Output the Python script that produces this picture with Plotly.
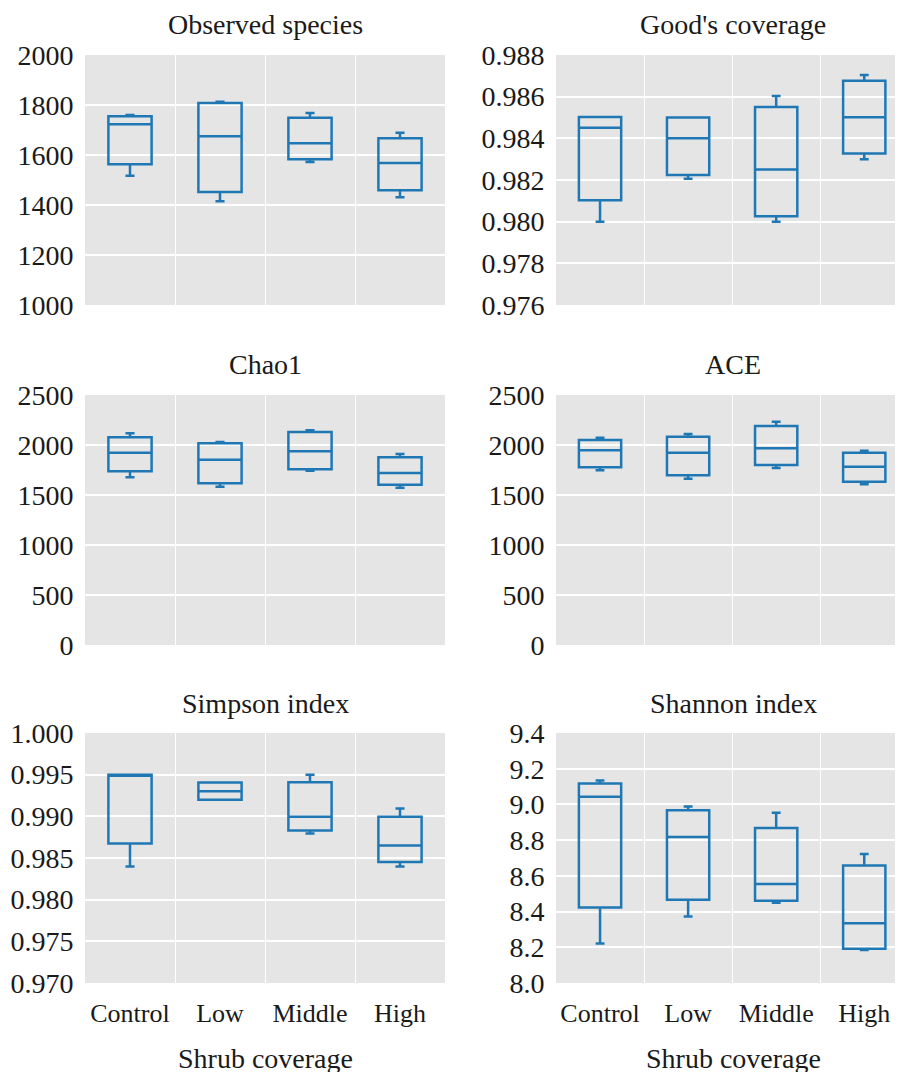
import plotly.graph_objects as go

categories = ["Control", "Low", "Middle", "High"]

panel_titles = ["Observed species", "Good's coverage", "Chao1", "ACE", "Simpson index", "Shannon index"]

# Observed species
obs_low = [1517, 1415, 1572, 1431]
obs_q1 = [1563, 1452, 1583, 1459]
obs_med = [1723, 1675, 1647, 1568]
obs_q3 = [1755, 1808, 1749, 1667]
obs_up = [1760, 1813, 1768, 1689]

# Good's coverage
good_low = [0.98000, 0.98206, 0.98000, 0.98300]
good_q1 = [0.98103, 0.98224, 0.98026, 0.98327]
good_med = [0.98451, 0.98400, 0.98250, 0.98501]
good_q3 = [0.98503, 0.98500, 0.98551, 0.98676]
good_up = [0.98503, 0.98500, 0.98603, 0.98704]

# Chao1
chao_low = [1677, 1583, 1743, 1573]
chao_q1 = [1737, 1617, 1757, 1603]
chao_med = [1923, 1853, 1937, 1720]
chao_q3 = [2077, 2017, 2130, 1877]
chao_up = [2117, 2030, 2147, 1910]

# ACE
ace_low = [1747, 1663, 1770, 1607]
ace_q1 = [1777, 1697, 1800, 1633]
ace_med = [1947, 1923, 1967, 1783]
ace_q3 = [2050, 2083, 2190, 1923]
ace_up = [2073, 2110, 2233, 1943]

# Simpson index
simp_low = [0.98399, 0.99200, 0.98794, 0.98399]
simp_q1 = [0.98673, 0.99198, 0.98831, 0.98452]
simp_med = [0.99500, 0.99302, 0.98996, 0.98649]
simp_q3 = [0.99500, 0.99407, 0.99410, 0.98996]
simp_up = [0.99500, 0.99407, 0.99500, 0.99093]

# Shannon index
shan_low = [8.221, 8.372, 8.449, 8.185]
shan_q1 = [8.423, 8.466, 8.460, 8.192]
shan_med = [9.043, 8.817, 8.555, 8.334]
shan_q3 = [9.117, 8.968, 8.868, 8.658]
shan_up = [9.134, 8.989, 8.953, 8.723]

y_ranges = [[1000, 2000], [0.976, 0.988], [0, 2500], [0, 2500], [0.970, 1.000], [8.0, 9.4]]
y_dticks = [200, 0.002, 500, 500, 0.005, 0.2]
y_formats = ["d", ".3f", "d", "d", ".3f", ".1f"]

stats = [
    (obs_low, obs_q1, obs_med, obs_q3, obs_up),
    (good_low, good_q1, good_med, good_q3, good_up),
    (chao_low, chao_q1, chao_med, chao_q3, chao_up),
    (ace_low, ace_q1, ace_med, ace_q3, ace_up),
    (simp_low, simp_q1, simp_med, simp_q3, simp_up),
    (shan_low, shan_q1, shan_med, shan_q3, shan_up),
]

W, H = 903, 1072
OFF = 8  # page body margin offset
FONT = "Liberation Serif"
TXT = "#1a1a1a"
BLUE = "#1f77b4"


def fx(px):
    return (px - OFF) / W


def fy(px):
    return 1 - (px - OFF) / H


x_domains = [[fx(85), fx(445)], [fx(556), fx(903)]]
x_ranges = [[-0.5, 3.5], [-0.5, 3.44]]
rows_px = [(55, 305), (395, 645), (733, 983)]

fig = go.Figure()
layout = dict(
    width=W, height=H,
    margin=dict(l=0, r=0, t=0, b=0, autoexpand=False),
    paper_bgcolor="white",
    plot_bgcolor="#e5e5e5",
    showlegend=False,
    font=dict(family=FONT, size=28, color=TXT),
    boxgap=0.52,
    boxgroupgap=0,
    annotations=[],
)

for i in range(6):
    r, c = divmod(i, 2)
    n = i + 1
    xa = "x" if n == 1 else f"x{n}"
    ya = "y" if n == 1 else f"y{n}"
    lo, q1, med, q3, up = stats[i]
    fig.add_trace(go.Box(
        x=categories, q1=q1, median=med, q3=q3, lowerfence=lo, upperfence=up,
        xaxis=xa, yaxis=ya,
        fillcolor="rgba(0,0,0,0)",
        line=dict(color=BLUE, width=2.5),
        whiskerwidth=0.21,
        boxpoints=False,
        hoverinfo="skip",
    ))
    top_px, bot_px = rows_px[r]
    ydom = [fy(bot_px), fy(top_px)]
    layout[f"xaxis{'' if n == 1 else n}"] = dict(
        domain=x_domains[c], anchor=ya,
        type="category", categoryorder="array", categoryarray=categories,
        range=x_ranges[c],
        tickson="boundaries",
        showgrid=True, gridcolor="white", gridwidth=1.2,
        showticklabels=(r == 2),
        tickangle=0,
        ticks="", ticklabelstandoff=12,
        tickfont=dict(family=FONT, size=26, color=TXT),
        showline=False, zeroline=False, automargin=False,
    )
    layout[f"yaxis{'' if n == 1 else n}"] = dict(
        domain=ydom, anchor=xa,
        range=y_ranges[i], dtick=y_dticks[i], tick0=y_ranges[i][0],
        tickformat=y_formats[i],
        showgrid=True, gridcolor="white", gridwidth=1.5,
        ticks="outside", ticklen=5, tickcolor="rgba(0,0,0,0)",
        tickfont=dict(family=FONT, size=28, color=TXT),
        showline=False, zeroline=False, automargin=False,
    )
    cx = fx(265) if c == 0 else fx(733)
    layout["annotations"].append(dict(
        text=panel_titles[i], xref="paper", yref="paper",
        x=cx, y=fy(top_px - 30), xanchor="center", yanchor="middle",
        showarrow=False, font=dict(family=FONT, size=28, color=TXT),
    ))

for cx in [fx(265), fx(733)]:
    layout["annotations"].append(dict(
        text="Shrub coverage", xref="paper", yref="paper",
        x=cx, y=fy(1058), xanchor="center", yanchor="middle",
        showarrow=False, font=dict(family=FONT, size=28, color=TXT),
    ))

fig.update_layout(**layout)
fig.write_html("out.html")
